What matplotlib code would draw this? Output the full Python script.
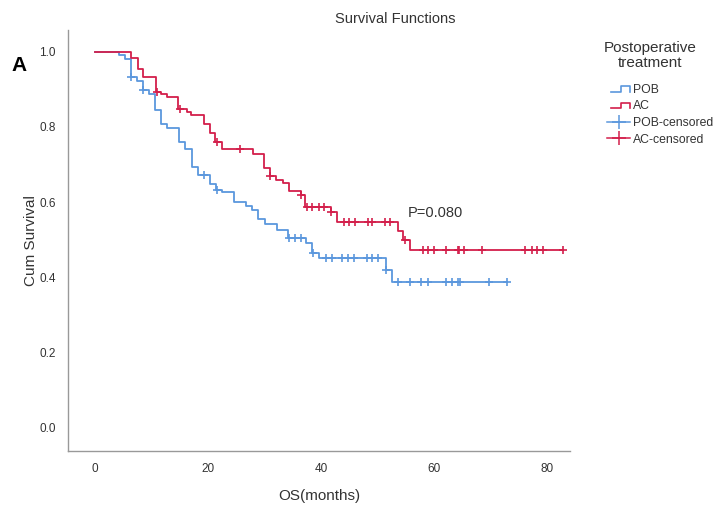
import numpy as np
import matplotlib
matplotlib.use("Agg")
import matplotlib.pyplot as plt
from matplotlib.lines import Line2D
from matplotlib.legend_handler import HandlerBase

plt.rcParams['font.family'] = ['Liberation Sans', 'DejaVu Sans']

# step times (months) and survival after each drop
pob_t = [0, 4.2, 5.3, 6.3, 7.5, 8.5, 9.6, 10.6, 11.6, 12.8, 14.9, 16.0, 17.2, 18.3,
         20.4, 21.4, 22.4, 24.6, 26.8, 27.7, 28.9, 30.1, 32.2, 34.2, 37.3, 38.5,
         39.7, 51.5, 52.6, 73.0]
pob_s = [1.0, 0.990, 0.981, 0.932, 0.921, 0.897, 0.888, 0.844, 0.808, 0.797, 0.761,
         0.740, 0.694, 0.672, 0.648, 0.633, 0.626, 0.600, 0.590, 0.578, 0.554, 0.543,
         0.527, 0.505, 0.492, 0.465, 0.450, 0.419, 0.388, 0.388]
pob_cens = [6.3, 8.5, 19.2, 21.6, 34.4, 35.4, 36.4, 38.6, 40.9, 41.9, 43.8, 44.8,
            45.8, 48.1, 49.1, 50.1, 51.5, 53.7, 55.8, 57.8, 58.9, 62.2, 63.2, 64.3,
            64.6, 69.8, 73.0]

ac_t = [0, 6.3, 7.6, 8.5, 10.7, 11.6, 12.8, 14.7, 16.2, 17.0, 19.3, 20.3, 21.2, 22.4,
        27.9, 30.0, 31.0, 32.0, 33.2, 34.3, 36.4, 37.2, 41.7, 42.9, 53.6, 54.6, 55.8,
        82.8]
ac_s = [1.0, 0.984, 0.954, 0.934, 0.894, 0.888, 0.879, 0.848, 0.839, 0.832, 0.808,
        0.784, 0.761, 0.740, 0.729, 0.690, 0.669, 0.660, 0.652, 0.630, 0.618, 0.588,
        0.573, 0.547, 0.523, 0.498, 0.473, 0.473]
ac_cens = [11.0, 15.0, 21.6, 25.7, 31.0, 36.4, 37.5, 38.5, 39.6, 40.6, 41.8, 44.0,
           44.9, 46.0, 48.3, 49.1, 51.4, 52.3, 54.8, 58.0, 59.0, 60.0, 62.2, 64.3,
           64.5, 65.4, 68.6, 76.1, 77.3, 78.3, 79.3, 82.8]

blue = '#5b97dd'
red = '#d31f4b'
txt = '#333333'


def surv_at(ts, ss, x):
    i = np.searchsorted(ts, x, side='right') - 1
    return ss[i]


class StepHandler(HandlerBase):
    def create_artists(self, legend, orig_handle, xdescent, ydescent,
                       width, height, fontsize, trans):
        lo = -ydescent + height * 0.15
        hi = -ydescent + height * 0.75
        xs = [-xdescent + width * 0.15, -xdescent + width * 0.6, -xdescent + width * 0.6,
              -xdescent + width, -xdescent + width]
        ys = [lo, lo, hi, hi, lo]
        ln = Line2D(xs, ys, color=orig_handle.get_color(), lw=1.2, transform=trans)
        return [ln]


fig = plt.figure(figsize=(7.16, 5.05), dpi=100)
ax = fig.add_axes([0.095, 0.107, 0.701, 0.833])

ax.plot(pob_t, pob_s, drawstyle='steps-post', color=blue, lw=1.3)
ax.plot(ac_t, ac_s, drawstyle='steps-post', color=red, lw=1.3)
ax.plot(pob_cens, [surv_at(pob_t, pob_s, c) for c in pob_cens], ls='none',
        marker='+', ms=5.5, mew=1.2, color=blue)
ax.plot(ac_cens, [surv_at(ac_t, ac_s, c) for c in ac_cens], ls='none',
        marker='+', ms=5.5, mew=1.2, color=red)

ax.set_xlim(-4.8, 84.1)
ax.set_ylim(-0.062, 1.057)
ax.set_xticks([0, 20, 40, 60, 80])
ax.set_yticks([0.0, 0.2, 0.4, 0.6, 0.8, 1.0])
ax.set_yticklabels(['0.0', '0.2', '0.4', '0.6', '0.8', '1.0'])
ax.tick_params(length=0, labelsize=8.5, colors=txt, pad=9)
for s in ['top', 'right']:
    ax.spines[s].set_visible(False)
for s in ['left', 'bottom']:
    ax.spines[s].set_color('#999999')
    ax.spines[s].set_linewidth(1.0)

ax.set_xlabel('OS(months)', fontsize=11, color=txt, labelpad=10)
ax.set_ylabel('Cum Survival', fontsize=11, color=txt, labelpad=1)
fig.text(0.552, 0.962, 'Survival Functions', ha='center', va='center',
         fontsize=10.5, color=txt)
fig.text(0.027, 0.87, 'A', fontsize=15, fontweight='bold', color='black',
         ha='center', va='center')
ax.text(55.4, 0.570, 'P=0.080', fontsize=10.5, color=txt, va='center')

# legend title drawn separately so the gap above the entries matches
fig.text(0.908, 0.89, 'Postoperative\ntreatment', ha='center', va='center',
         fontsize=11, color=txt, linespacing=1.1)
handles = [Line2D([], [], color=blue), Line2D([], [], color=red),
           Line2D([], [], color=blue, marker='+', ms=10, mew=1.1, lw=1.1),
           Line2D([], [], color=red, marker='+', ms=10, mew=1.1, lw=1.1)]
leg = fig.legend(handles, ['POB', 'AC', 'POB-censored', 'AC-censored'],
                 handler_map={handles[0]: StepHandler(), handles[1]: StepHandler()},
                 loc='upper left', bbox_to_anchor=(0.836, 0.851), frameon=False,
                 fontsize=8.8, handlelength=1.9, handletextpad=0.2,
                 labelspacing=0.38, borderpad=0.2)
for t in leg.get_texts():
    t.set_color(txt)

fig.savefig('out.png', dpi=100)
